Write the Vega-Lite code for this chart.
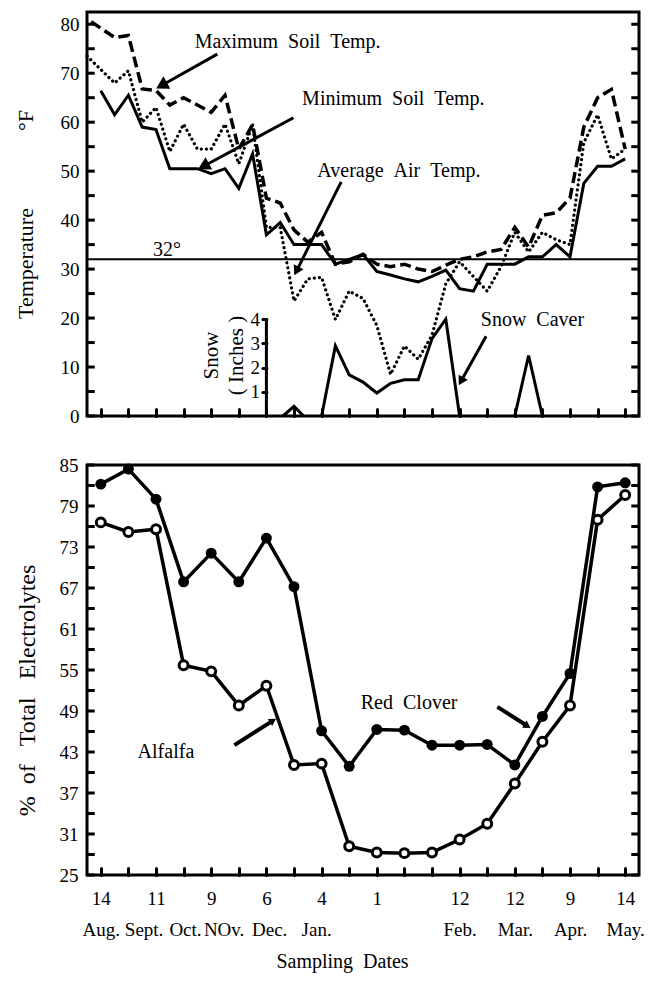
{
  "$schema": "https://vega.github.io/schema/vega-lite/v6.json",
  "background": "white",
  "padding": {"left": 12, "top": 10, "right": 10, "bottom": 5},
  "spacing": 26,
  "config": {
    "view": {"stroke": "#000", "strokeWidth": 3},
    "axis": {"labelFont": "Liberation Serif", "titleFont": "Liberation Serif", "labelColor": "#000", "titleColor": "#000", "tickColor": "#000", "titleFontWeight": "normal", "grid": false, "domain": false, "labelOverlap": false, "labelFlush": false, "tickCap": "round"},
    "text": {"font": "Liberation Serif", "color": "#000"}
  },
  "datasets": {
    "temps": [
      {"t": -0.35, "s": "max", "v": 80.5}, {"t": 0.5, "s": "max", "v": 77.3}, {"t": 1, "s": "max", "v": 77.7}, {"t": 1.5, "s": "max", "v": 66.8}, {"t": 2, "s": "max", "v": 66.5}, {"t": 2.5, "s": "max", "v": 63.5}, {"t": 3, "s": "max", "v": 65}, {"t": 3.5, "s": "max", "v": 63.5}, {"t": 4, "s": "max", "v": 62}, {"t": 4.5, "s": "max", "v": 65.5}, {"t": 5, "s": "max", "v": 54.5}, {"t": 5.5, "s": "max", "v": 59.5}, {"t": 6, "s": "max", "v": 44.5}, {"t": 6.5, "s": "max", "v": 43.5}, {"t": 7, "s": "max", "v": 38}, {"t": 7.5, "s": "max", "v": 35.5}, {"t": 8, "s": "max", "v": 37.5}, {"t": 8.5, "s": "max", "v": 31}, {"t": 9, "s": "max", "v": 31.5}, {"t": 9.5, "s": "max", "v": 33}, {"t": 10, "s": "max", "v": 31}, {"t": 10.5, "s": "max", "v": 30.5}, {"t": 11, "s": "max", "v": 31}, {"t": 11.5, "s": "max", "v": 30}, {"t": 12, "s": "max", "v": 29.5}, {"t": 12.5, "s": "max", "v": 30.8}, {"t": 13, "s": "max", "v": 32}, {"t": 13.5, "s": "max", "v": 32.5}, {"t": 14, "s": "max", "v": 33.5}, {"t": 14.5, "s": "max", "v": 34}, {"t": 15, "s": "max", "v": 38.5}, {"t": 15.5, "s": "max", "v": 34.5}, {"t": 16, "s": "max", "v": 41}, {"t": 16.5, "s": "max", "v": 41.5}, {"t": 17, "s": "max", "v": 44.5}, {"t": 17.5, "s": "max", "v": 59}, {"t": 18, "s": "max", "v": 65}, {"t": 18.5, "s": "max", "v": 66.7}, {"t": 19, "s": "max", "v": 54.5},
      {"t": -0.5, "s": "min", "v": 73.5}, {"t": 0.5, "s": "min", "v": 68}, {"t": 1, "s": "min", "v": 70.5}, {"t": 1.5, "s": "min", "v": 60}, {"t": 2, "s": "min", "v": 63}, {"t": 2.5, "s": "min", "v": 54}, {"t": 3, "s": "min", "v": 59.6}, {"t": 3.5, "s": "min", "v": 54.5}, {"t": 4, "s": "min", "v": 54.5}, {"t": 4.5, "s": "min", "v": 59.6}, {"t": 5, "s": "min", "v": 51.5}, {"t": 5.5, "s": "min", "v": 59.5}, {"t": 6, "s": "min", "v": 38.5}, {"t": 6.5, "s": "min", "v": 38.5}, {"t": 7, "s": "min", "v": 23.5}, {"t": 7.5, "s": "min", "v": 28}, {"t": 8, "s": "min", "v": 28.3}, {"t": 8.5, "s": "min", "v": 19.7}, {"t": 9, "s": "min", "v": 25.5}, {"t": 9.5, "s": "min", "v": 24}, {"t": 10, "s": "min", "v": 18.5}, {"t": 10.5, "s": "min", "v": 8.5}, {"t": 11, "s": "min", "v": 14.3}, {"t": 11.5, "s": "min", "v": 11.6}, {"t": 12, "s": "min", "v": 16.5}, {"t": 12.5, "s": "min", "v": 27}, {"t": 13, "s": "min", "v": 31.5}, {"t": 13.5, "s": "min", "v": 28.5}, {"t": 14, "s": "min", "v": 25.5}, {"t": 14.5, "s": "min", "v": 30.5}, {"t": 15, "s": "min", "v": 37.5}, {"t": 15.5, "s": "min", "v": 33.5}, {"t": 16, "s": "min", "v": 37.5}, {"t": 16.5, "s": "min", "v": 36}, {"t": 17, "s": "min", "v": 35}, {"t": 17.5, "s": "min", "v": 55.8}, {"t": 18, "s": "min", "v": 61.5}, {"t": 18.5, "s": "min", "v": 52.5}, {"t": 19, "s": "min", "v": 54.5},
      {"t": 0, "s": "air", "v": 66.4}, {"t": 0.5, "s": "air", "v": 61.5}, {"t": 1, "s": "air", "v": 65.5}, {"t": 1.5, "s": "air", "v": 59}, {"t": 2, "s": "air", "v": 58.5}, {"t": 2.5, "s": "air", "v": 50.5}, {"t": 3, "s": "air", "v": 50.5}, {"t": 3.5, "s": "air", "v": 50.5}, {"t": 4, "s": "air", "v": 49.5}, {"t": 4.5, "s": "air", "v": 50.5}, {"t": 5, "s": "air", "v": 46.5}, {"t": 5.5, "s": "air", "v": 53.5}, {"t": 6, "s": "air", "v": 37}, {"t": 6.5, "s": "air", "v": 39.5}, {"t": 7, "s": "air", "v": 35}, {"t": 7.5, "s": "air", "v": 35}, {"t": 8, "s": "air", "v": 35}, {"t": 8.5, "s": "air", "v": 31}, {"t": 9, "s": "air", "v": 32}, {"t": 9.5, "s": "air", "v": 33}, {"t": 10, "s": "air", "v": 29.5}, {"t": 10.5, "s": "air", "v": 28.8}, {"t": 11, "s": "air", "v": 28}, {"t": 11.5, "s": "air", "v": 27.4}, {"t": 12, "s": "air", "v": 28.5}, {"t": 12.5, "s": "air", "v": 29.8}, {"t": 13, "s": "air", "v": 26}, {"t": 13.5, "s": "air", "v": 25.5}, {"t": 14, "s": "air", "v": 31}, {"t": 14.5, "s": "air", "v": 31}, {"t": 15, "s": "air", "v": 31}, {"t": 15.5, "s": "air", "v": 32.5}, {"t": 16, "s": "air", "v": 32.5}, {"t": 16.5, "s": "air", "v": 35}, {"t": 17, "s": "air", "v": 32.5}, {"t": 17.5, "s": "air", "v": 47.5}, {"t": 18, "s": "air", "v": 51}, {"t": 18.5, "s": "air", "v": 51}, {"t": 19, "s": "air", "v": 52.5}
    ],
    "snow": [
      {"t": 6.6, "seg": "a", "snow": 0}, {"t": 7.0, "seg": "a", "snow": 0.4}, {"t": 7.35, "seg": "a", "snow": 0},
      {"t": 8, "seg": "b", "snow": 0}, {"t": 8.5, "seg": "b", "snow": 2.9}, {"t": 9, "seg": "b", "snow": 1.7}, {"t": 9.5, "seg": "b", "snow": 1.4}, {"t": 10, "seg": "b", "snow": 0.95}, {"t": 10.5, "seg": "b", "snow": 1.35}, {"t": 11, "seg": "b", "snow": 1.5}, {"t": 11.5, "seg": "b", "snow": 1.5}, {"t": 12, "seg": "b", "snow": 3.2}, {"t": 12.5, "seg": "b", "snow": 4.0}, {"t": 13, "seg": "b", "snow": 0},
      {"t": 15, "seg": "c", "snow": 0}, {"t": 15.5, "seg": "c", "snow": 2.5}, {"t": 16, "seg": "c", "snow": 0}
    ],
    "elec": [
      {"t": 0, "crop": "Red Clover", "pct": 82.2}, {"t": 1, "crop": "Red Clover", "pct": 84.4}, {"t": 2, "crop": "Red Clover", "pct": 80.0}, {"t": 3, "crop": "Red Clover", "pct": 67.9}, {"t": 4, "crop": "Red Clover", "pct": 72.1}, {"t": 5, "crop": "Red Clover", "pct": 67.9}, {"t": 6, "crop": "Red Clover", "pct": 74.3}, {"t": 7, "crop": "Red Clover", "pct": 67.2}, {"t": 8, "crop": "Red Clover", "pct": 46.1}, {"t": 9, "crop": "Red Clover", "pct": 40.9}, {"t": 10, "crop": "Red Clover", "pct": 46.3}, {"t": 11, "crop": "Red Clover", "pct": 46.2}, {"t": 12, "crop": "Red Clover", "pct": 44.0}, {"t": 13, "crop": "Red Clover", "pct": 44.0}, {"t": 14, "crop": "Red Clover", "pct": 44.1}, {"t": 15, "crop": "Red Clover", "pct": 41.1}, {"t": 16, "crop": "Red Clover", "pct": 48.2}, {"t": 17, "crop": "Red Clover", "pct": 54.5}, {"t": 18, "crop": "Red Clover", "pct": 81.8}, {"t": 19, "crop": "Red Clover", "pct": 82.4},
      {"t": 0, "crop": "Alfalfa", "pct": 76.6}, {"t": 1, "crop": "Alfalfa", "pct": 75.2}, {"t": 2, "crop": "Alfalfa", "pct": 75.6}, {"t": 3, "crop": "Alfalfa", "pct": 55.7}, {"t": 4, "crop": "Alfalfa", "pct": 54.8}, {"t": 5, "crop": "Alfalfa", "pct": 49.8}, {"t": 6, "crop": "Alfalfa", "pct": 52.7}, {"t": 7, "crop": "Alfalfa", "pct": 41.1}, {"t": 8, "crop": "Alfalfa", "pct": 41.3}, {"t": 9, "crop": "Alfalfa", "pct": 29.2}, {"t": 10, "crop": "Alfalfa", "pct": 28.3}, {"t": 11, "crop": "Alfalfa", "pct": 28.2}, {"t": 12, "crop": "Alfalfa", "pct": 28.3}, {"t": 13, "crop": "Alfalfa", "pct": 30.2}, {"t": 14, "crop": "Alfalfa", "pct": 32.5}, {"t": 15, "crop": "Alfalfa", "pct": 38.4}, {"t": 16, "crop": "Alfalfa", "pct": 44.5}, {"t": 17, "crop": "Alfalfa", "pct": 49.8}, {"t": 18, "crop": "Alfalfa", "pct": 77.0}, {"t": 19, "crop": "Alfalfa", "pct": 80.6}
    ],
    "notesTop": [
      {"t": 6.77, "v": 76.3, "label": "Maximum\u00a0\u00a0Soil\u00a0\u00a0Temp."},
      {"t": 10.6, "v": 64.7, "label": "Minimum\u00a0\u00a0Soil\u00a0\u00a0Temp."},
      {"t": 10.8, "v": 50.0, "label": "Average\u00a0\u00a0Air\u00a0\u00a0Temp."},
      {"t": 15.64, "v": 19.7, "label": "Snow\u00a0\u00a0Caver"},
      {"t": 2.4, "v": 34.0, "label": "32°"}
    ],
    "arrowsTop": [
      {"id": "max", "x0": 4.22, "y0": 73.9, "x1": 2.2, "y1": 67.5},
      {"id": "min", "x0": 6.98, "y0": 60.9, "x1": 3.72, "y1": 51.0},
      {"id": "air", "x0": 8.71, "y0": 47.8, "x1": 7.09, "y1": 29.6},
      {"id": "snow", "x0": 13.96, "y0": 16.3, "x1": 13.05, "y1": 7.1}
    ],
    "notesBottom": [
      {"t": 11.17, "v": 50.2, "label": "Red\u00a0\u00a0Clover"},
      {"t": 2.36, "v": 43.0, "label": "Alfalfa"}
    ],
    "arrowsBottom": [
      {"id": "red", "x0": 14.37, "y0": 49.6, "x1": 15.46, "y1": 46.8},
      {"id": "alf", "x0": 4.84, "y0": 44.0, "x1": 6.24, "y1": 47.6}
    ],
    "ticksTop": [{"v": 0}, {"v": 5}, {"v": 10}, {"v": 15}, {"v": 20}, {"v": 25}, {"v": 30}, {"v": 35}, {"v": 40}, {"v": 45}, {"v": 50}, {"v": 55}, {"v": 60}, {"v": 65}, {"v": 70}, {"v": 75}, {"v": 80}],
    "ticksBottom": [{"v": 25}, {"v": 28}, {"v": 31}, {"v": 34}, {"v": 37}, {"v": 40}, {"v": 43}, {"v": 46}, {"v": 49}, {"v": 52}, {"v": 55}, {"v": 58}, {"v": 61}, {"v": 64}, {"v": 67}, {"v": 70}, {"v": 73}, {"v": 76}, {"v": 79}, {"v": 82}, {"v": 85}]
  },
  "vconcat": [
    {
      "width": 552,
      "height": 404,
      "resolve": {"scale": {"y": "independent"}, "axis": {"x": "independent", "y": "independent"}},
      "layer": [
        {
          "data": {"name": "temps"},
          "transform": [{"filter": "datum.s == 'max'"}],
          "mark": {"type": "line", "color": "#000", "strokeWidth": 3.5, "strokeDash": [11, 5]},
          "encoding": {
            "x": {"field": "t", "type": "quantitative", "scale": {"domain": [-0.5, 19.5], "nice": false, "zero": false},
              "axis": {"orient": "top", "offset": -404, "values": [0,1,2,3,4,5,6,7,8,9,10,11,12,13,14,15,16,17,18,19], "labels": false, "tickSize": 7, "tickWidth": 3, "title": null}},
            "y": {"field": "v", "type": "quantitative", "scale": {"domain": [0, 82.5], "nice": false, "zero": false},
              "axis": {"orient": "left", "values": [0,10,20,30,40,50,60,70,80], "ticks": false, "labelFontSize": 19, "labelPadding": 8,
                "title": "Temperature\u00a0\u00a0\u00a0\u00a0\u00a0\u00a0\u00a0\u00a0\u00a0\u00a0\u00a0\u00a0\u00a0\u00a0°F", "titleFontSize": 22, "titleX": -72, "titleAngle": -90, "titleBaseline": "top"}}
          }
        },
        {
          "data": {"name": "temps"},
          "transform": [{"filter": "datum.s == 'min'"}],
          "mark": {"type": "line", "color": "#000", "strokeWidth": 3.2, "strokeDash": [0.1, 5], "strokeCap": "round"},
          "encoding": {
            "x": {"field": "t", "type": "quantitative", "scale": {"domain": [-0.5, 19.5], "nice": false, "zero": false}, "axis": null},
            "y": {"field": "v", "type": "quantitative", "scale": {"domain": [0, 82.5], "nice": false, "zero": false}, "axis": null}
          }
        },
        {
          "data": {"name": "temps"},
          "transform": [{"filter": "datum.s == 'air'"}],
          "mark": {"type": "line", "color": "#000", "strokeWidth": 3},
          "encoding": {
            "x": {"field": "t", "type": "quantitative", "scale": {"domain": [-0.5, 19.5], "nice": false, "zero": false}, "axis": null},
            "y": {"field": "v", "type": "quantitative", "scale": {"domain": [0, 82.5], "nice": false, "zero": false}, "axis": null}
          }
        },
        {
          "data": {"name": "ticksTop"},
          "mark": {"type": "rule", "color": "#000", "strokeWidth": 3},
          "encoding": {
            "x": {"datum": -0.5, "type": "quantitative", "scale": {"domain": [-0.5, 19.5], "nice": false, "zero": false}, "axis": null},
            "x2": {"datum": -0.22},
            "y": {"field": "v", "type": "quantitative", "scale": {"domain": [0, 82.5], "nice": false, "zero": false}, "axis": null}
          }
        },
        {
          "data": {"name": "ticksTop"},
          "mark": {"type": "rule", "color": "#000", "strokeWidth": 3},
          "encoding": {
            "x": {"datum": 19.22, "type": "quantitative", "scale": {"domain": [-0.5, 19.5], "nice": false, "zero": false}, "axis": null},
            "x2": {"datum": 19.5},
            "y": {"field": "v", "type": "quantitative", "scale": {"domain": [0, 82.5], "nice": false, "zero": false}, "axis": null}
          }
        },
        {
          "data": {"values": [{"v": 32}]},
          "mark": {"type": "rule", "color": "#000", "strokeWidth": 2},
          "encoding": {
            "y": {"field": "v", "type": "quantitative", "scale": {"domain": [0, 82.5], "nice": false, "zero": false}, "axis": null}
          }
        },
        {
          "data": {"name": "snow"},
          "mark": {"type": "line", "color": "#000", "strokeWidth": 3},
          "encoding": {
            "x": {"field": "t", "type": "quantitative", "scale": {"domain": [-0.5, 19.5], "nice": false, "zero": false}, "axis": null},
            "y": {"field": "snow", "type": "quantitative", "scale": {"domain": [0, 16.7], "nice": false, "zero": false},
              "axis": {"orient": "left", "offset": -179.4, "values": [1, 2, 3, 4], "labelFontSize": 19, "labelPadding": 3, "tickSize": 4, "tickWidth": 3,
                "title": ["Snow", "( Inches )"], "titleFontSize": 21, "titleLineHeight": 25, "titleX": -66, "titleY": 343, "titleAngle": -90, "titleBaseline": "top"}},
            "detail": {"field": "seg"}
          }
        },
        {
          "data": {"values": [{"at": 6, "lo": 0, "hi": 4}]},
          "mark": {"type": "rule", "color": "#000", "strokeWidth": 3},
          "encoding": {
            "x": {"field": "at", "type": "quantitative", "scale": {"domain": [-0.5, 19.5], "nice": false, "zero": false}, "axis": null},
            "y": {"field": "lo", "type": "quantitative", "scale": {"domain": [0, 16.7], "nice": false, "zero": false}, "axis": null},
            "y2": {"field": "hi"}
          }
        },
        {
          "data": {"name": "notesTop"},
          "mark": {"type": "text", "fontSize": 20, "align": "center", "baseline": "middle"},
          "encoding": {
            "x": {"field": "t", "type": "quantitative", "scale": {"domain": [-0.5, 19.5], "nice": false, "zero": false}, "axis": null},
            "y": {"field": "v", "type": "quantitative", "scale": {"domain": [0, 82.5], "nice": false, "zero": false}, "axis": null},
            "text": {"field": "label"}
          }
        },
        {
          "data": {"name": "arrowsTop"},
          "mark": {"type": "rule", "color": "#000", "strokeWidth": 3},
          "encoding": {
            "x": {"field": "x0", "type": "quantitative", "scale": {"domain": [-0.5, 19.5], "nice": false, "zero": false}, "axis": null},
            "y": {"field": "y0", "type": "quantitative", "scale": {"domain": [0, 82.5], "nice": false, "zero": false}, "axis": null},
            "x2": {"field": "x1"},
            "y2": {"field": "y1"}
          }
        },
        {"data": {"name": "arrowsTop"}, "transform": [{"filter": "datum.id == 'max'"}], "mark": {"type": "point", "shape": "triangle-up", "filled": true, "color": "#000", "opacity": 1, "size": 200, "angle": 241}, "encoding": {"x": {"field": "x1", "type": "quantitative", "scale": {"domain": [-0.5, 19.5], "nice": false, "zero": false}, "axis": null}, "y": {"field": "y1", "type": "quantitative", "scale": {"domain": [0, 82.5], "nice": false, "zero": false}, "axis": null}}},
        {"data": {"name": "arrowsTop"}, "transform": [{"filter": "datum.id == 'min'"}], "mark": {"type": "point", "shape": "triangle-up", "filled": true, "color": "#000", "opacity": 1, "size": 200, "angle": 242}, "encoding": {"x": {"field": "x1", "type": "quantitative", "scale": {"domain": [-0.5, 19.5], "nice": false, "zero": false}, "axis": null}, "y": {"field": "y1", "type": "quantitative", "scale": {"domain": [0, 82.5], "nice": false, "zero": false}, "axis": null}}},
        {"data": {"name": "arrowsTop"}, "transform": [{"filter": "datum.id == 'air'"}], "mark": {"type": "point", "shape": "triangle-up", "filled": true, "color": "#000", "opacity": 1, "size": 120, "angle": 207}, "encoding": {"x": {"field": "x1", "type": "quantitative", "scale": {"domain": [-0.5, 19.5], "nice": false, "zero": false}, "axis": null}, "y": {"field": "y1", "type": "quantitative", "scale": {"domain": [0, 82.5], "nice": false, "zero": false}, "axis": null}}},
        {"data": {"name": "arrowsTop"}, "transform": [{"filter": "datum.id == 'snow'"}], "mark": {"type": "point", "shape": "triangle-up", "filled": true, "color": "#000", "opacity": 1, "size": 110, "angle": 209}, "encoding": {"x": {"field": "x1", "type": "quantitative", "scale": {"domain": [-0.5, 19.5], "nice": false, "zero": false}, "axis": null}, "y": {"field": "y1", "type": "quantitative", "scale": {"domain": [0, 82.5], "nice": false, "zero": false}, "axis": null}}}
      ]
    },
    {
      "width": 552,
      "height": 410,
      "resolve": {"axis": {"x": "independent", "y": "independent"}},
      "layer": [
        {
          "data": {"name": "elec"},
          "mark": {"type": "line", "color": "#000", "strokeWidth": 3.5},
          "encoding": {
            "x": {"field": "t", "type": "quantitative", "scale": {"domain": [-0.5, 19.5], "nice": false, "zero": false},
              "axis": {"orient": "bottom", "values": [0,2,4,6,8,10,13,15,17,19], "ticks": false,
                "labelExpr": "datum.value==0?'14':datum.value==2?'11':datum.value==4?'9':datum.value==6?'6':datum.value==8?'4':datum.value==10?'1':datum.value==13?'12':datum.value==15?'12':datum.value==17?'9':'14'",
                "labelFontSize": 19, "labelPadding": 14, "labelBaseline": "top", "title": null}},
            "y": {"field": "pct", "type": "quantitative", "scale": {"domain": [25, 85], "nice": false, "zero": false},
              "axis": {"orient": "left", "values": [25,31,37,43,49,55,61,67,73,79,85], "ticks": false, "labelFontSize": 19, "labelPadding": 9,
                "title": "%\u00a0\u00a0of\u00a0\u00a0\u00a0Total\u00a0\u00a0\u00a0Electrolytes", "titleFontSize": 24, "titleX": -72, "titleY": 225, "titleAngle": -90, "titleBaseline": "top"}},
            "detail": {"field": "crop"}
          }
        },
        {
          "data": {"name": "elec"},
          "transform": [{"filter": "datum.crop == 'Red Clover'"}],
          "mark": {"type": "point", "filled": true, "color": "#000", "opacity": 1, "size": 120},
          "encoding": {
            "x": {"field": "t", "type": "quantitative",
              "axis": {"orient": "bottom", "values": [0, 1.55, 3.05, 4.45, 6.1, 7.8, 13, 15, 17, 19], "ticks": false,
                "labelExpr": "datum.value==0?'Aug.':datum.value==1.55?'Sept.':datum.value==3.05?'Oct.':datum.value==4.45?'NOv.':datum.value==6.1?'Dec.':datum.value==7.8?'Jan.':datum.value==13?'Feb.':datum.value==15?'Mar.':datum.value==17?'Apr.':'May.'",
                "labelFontSize": 19, "labelPadding": 45, "labelBaseline": "top",
                "title": "Sampling\u00a0\u00a0Dates", "titleFontSize": 20, "titlePadding": 12, "titleX": 255}},
            "y": {"field": "pct", "type": "quantitative", "axis": null}
          }
        },
        {
          "data": {"name": "elec"},
          "transform": [{"filter": "datum.crop == 'Alfalfa'"}],
          "mark": {"type": "point", "filled": true, "fill": "#fff", "stroke": "#000", "strokeWidth": 3, "opacity": 1, "size": 80},
          "encoding": {
            "x": {"field": "t", "type": "quantitative", "axis": null},
            "y": {"field": "pct", "type": "quantitative", "axis": null}
          }
        },
        {
          "data": {"name": "ticksBottom"},
          "mark": {"type": "rule", "color": "#000", "strokeWidth": 3},
          "encoding": {
            "x": {"datum": -0.5, "type": "quantitative", "axis": null},
            "x2": {"datum": -0.22},
            "y": {"field": "v", "type": "quantitative", "axis": null}
          }
        },
        {
          "data": {"name": "ticksBottom"},
          "mark": {"type": "rule", "color": "#000", "strokeWidth": 3},
          "encoding": {
            "x": {"datum": 19.22, "type": "quantitative", "axis": null},
            "x2": {"datum": 19.5},
            "y": {"field": "v", "type": "quantitative", "axis": null}
          }
        },
        {
          "data": {"name": "notesBottom"},
          "mark": {"type": "text", "fontSize": 20, "align": "center", "baseline": "middle"},
          "encoding": {
            "x": {"field": "t", "type": "quantitative",
              "axis": {"orient": "top", "offset": -410, "values": [0,1,2,3,4,5,6,7,8,9,10,11,12,13,14,15,16,17,18,19], "labels": false, "tickSize": 7, "tickWidth": 3, "title": null}},
            "y": {"field": "v", "type": "quantitative", "axis": null},
            "text": {"field": "label"}
          }
        },
        {
          "data": {"name": "arrowsBottom"},
          "mark": {"type": "rule", "color": "#000", "strokeWidth": 4},
          "encoding": {
            "x": {"field": "x0", "type": "quantitative", "axis": null},
            "y": {"field": "y0", "type": "quantitative", "axis": null},
            "x2": {"field": "x1"},
            "y2": {"field": "y1"}
          }
        },
        {"data": {"name": "arrowsBottom"}, "transform": [{"filter": "datum.id == 'red'"}], "mark": {"type": "point", "shape": "triangle-up", "filled": true, "color": "#000", "opacity": 1, "size": 70, "angle": 122}, "encoding": {"x": {"field": "x1", "type": "quantitative", "axis": null}, "y": {"field": "y1", "type": "quantitative", "axis": null}}},
        {"data": {"name": "arrowsBottom"}, "transform": [{"filter": "datum.id == 'alf'"}], "mark": {"type": "point", "shape": "triangle-up", "filled": true, "color": "#000", "opacity": 1, "size": 70, "angle": 58}, "encoding": {"x": {"field": "x1", "type": "quantitative", "axis": null}, "y": {"field": "y1", "type": "quantitative", "axis": null}}}
      ]
    }
  ]
}
